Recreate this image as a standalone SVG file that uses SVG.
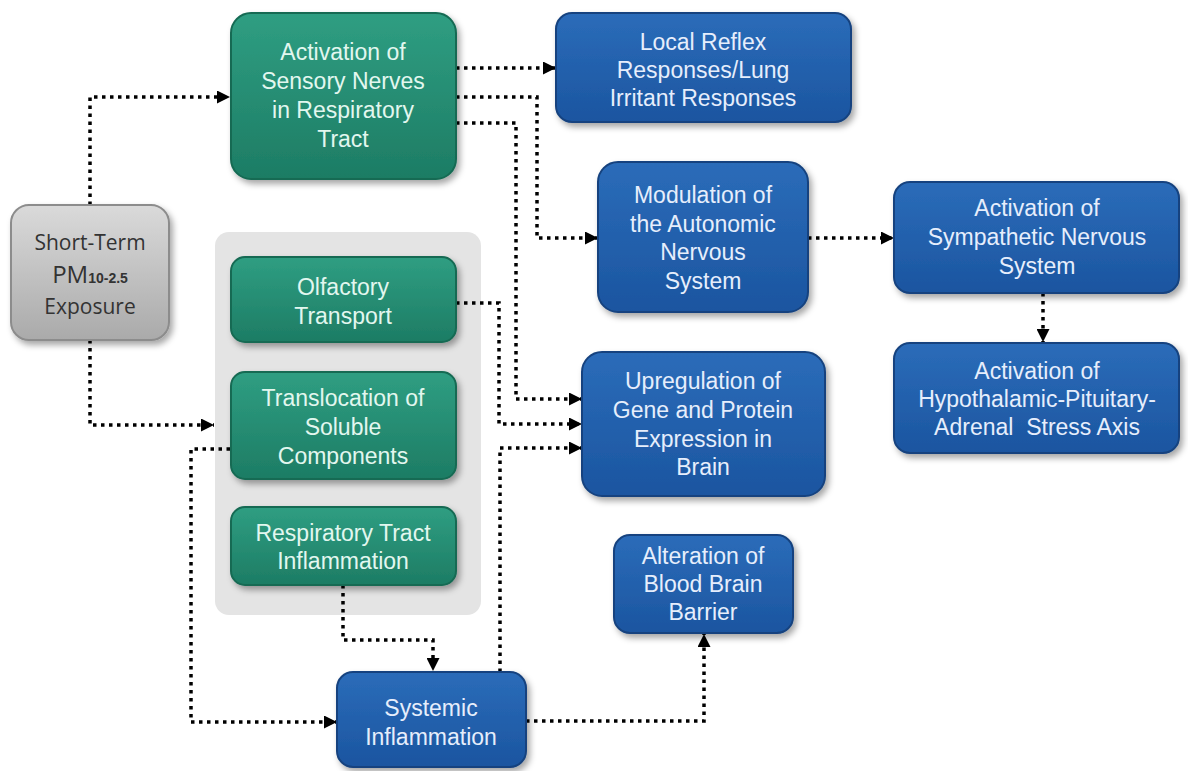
<svg xmlns="http://www.w3.org/2000/svg" width="1188" height="771" viewBox="0 0 1188 771">
<defs>
<linearGradient id="gGreen" x1="0" y1="0" x2="0" y2="1"><stop offset="0" stop-color="#2f9e82"/><stop offset="1" stop-color="#1d7c64"/></linearGradient>
<linearGradient id="gBlue" x1="0" y1="0" x2="0" y2="1"><stop offset="0" stop-color="#2b6cb9"/><stop offset="1" stop-color="#1b55a0"/></linearGradient>
<linearGradient id="gGray" x1="0" y1="0" x2="0" y2="1"><stop offset="0" stop-color="#dadada"/><stop offset="1" stop-color="#aaaaaa"/></linearGradient>
<filter id="sh" x="-10%" y="-10%" width="125%" height="130%"><feDropShadow dx="3" dy="4" stdDeviation="3" flood-color="#000" flood-opacity="0.35"/></filter>
<marker id="ah" viewBox="0 0 10 10" refX="10" refY="5" markerWidth="13" markerHeight="13" markerUnits="userSpaceOnUse" orient="auto"><path d="M0,0 L10,5 L0,10 z" fill="#000"/></marker>
</defs>
<style>
.green{fill:url(#gGreen);stroke:#146a53;stroke-width:2;filter:url(#sh)}
.blue{fill:url(#gBlue);stroke:#16437f;stroke-width:2;filter:url(#sh)}
.gray{fill:url(#gGray);stroke:#8c8c8c;stroke-width:2;filter:url(#sh)}
.t{font-family:"Liberation Sans Narrow","Liberation Sans",Arial,sans-serif;font-size:23px;text-anchor:middle}
.tg{fill:#e2f7ef}
.tb{fill:#e6eefc}
.ts{font-family:"Open Sans","Noto Sans",sans-serif;font-size:21px;text-anchor:middle;fill:#333}
.c{fill:none;stroke:#000;stroke-width:3.5;stroke-dasharray:3.5 4.5;marker-end:url(#ah)}
</style>
<rect width="1188" height="771" fill="#fff"/>
<rect id="group-bg" x="215" y="232" width="266" height="383" rx="14" fill="#e4e4e4"/>

<g id="connectors">
<path class="c" d="M90,205 V97 H230"/>
<path class="c" d="M90,340 V425 H214"/>
<path class="c" d="M456,68 H556"/>
<path class="c" d="M456,97 H537 V238 H598"/>
<path class="c" d="M456,123 H516 V399 H582"/>
<path class="c" d="M456,303 H499 V424 H582"/>
<path class="c" d="M500,672 V448 H582"/>
<path class="c" d="M230,449 H191 V722 H337"/>
<path class="c" d="M343,585 V640 H433 V671"/>
<path class="c" d="M526,721 H704 V634"/>
<path class="c" d="M808,238 H894"/>
<path class="c" d="M1043,293 V342"/>
</g>

<g id="short-term">
<rect class="gray" x="11" y="205" width="158" height="135" rx="18"/>
<text class="ts" x="90" y="250">Short-Term</text>
<text class="ts" x="90" y="283"><tspan font-size="24">PM</tspan><tspan font-size="14" font-weight="bold" font-family="Liberation Sans, Arial, sans-serif">10-2.5</tspan></text>
<text class="ts" x="90" y="314">Exposure</text>
</g>

<g id="sensory">
<rect class="green" x="231" y="13" width="225" height="166" rx="20"/>
<text class="t tg" x="343" y="60">Activation of</text>
<text class="t tg" x="343" y="89">Sensory Nerves</text>
<text class="t tg" x="343" y="118">in Respiratory</text>
<text class="t tg" x="343" y="147">Tract</text>
</g>

<g id="olfactory">
<rect class="green" x="231" y="257" width="225" height="85" rx="14"/>
<text class="t tg" x="343" y="295">Olfactory</text>
<text class="t tg" x="343" y="324">Transport</text>
</g>

<g id="translocation">
<rect class="green" x="231" y="372" width="225" height="107" rx="14"/>
<text class="t tg" x="343" y="406">Translocation of</text>
<text class="t tg" x="343" y="435">Soluble</text>
<text class="t tg" x="343" y="464">Components</text>
</g>

<g id="resp-inflammation">
<rect class="green" x="231" y="507" width="225" height="78" rx="14"/>
<text class="t tg" x="343" y="541">Respiratory Tract</text>
<text class="t tg" x="343" y="569">Inflammation</text>
</g>

<g id="systemic">
<rect class="blue" x="337" y="672" width="189" height="95" rx="16"/>
<text class="t tb" x="431" y="716">Systemic</text>
<text class="t tb" x="431" y="745">Inflammation</text>
</g>

<g id="local-reflex">
<rect class="blue" x="556" y="13" width="295" height="109" rx="16"/>
<text class="t tb" x="703" y="50">Local Reflex</text>
<text class="t tb" x="703" y="78">Responses/Lung</text>
<text class="t tb" x="703" y="106">Irritant Responses</text>
</g>

<g id="modulation">
<rect class="blue" x="598" y="162" width="210" height="150" rx="20"/>
<text class="t tb" x="703" y="203">Modulation of</text>
<text class="t tb" x="703" y="232">the Autonomic</text>
<text class="t tb" x="703" y="260">Nervous</text>
<text class="t tb" x="703" y="289">System</text>
</g>

<g id="sympathetic">
<rect class="blue" x="894" y="182" width="285" height="111" rx="16"/>
<text class="t tb" x="1037" y="216">Activation of</text>
<text class="t tb" x="1037" y="245">Sympathetic Nervous</text>
<text class="t tb" x="1037" y="274">System</text>
</g>

<g id="hpa">
<rect class="blue" x="894" y="343" width="285" height="110" rx="16"/>
<text class="t tb" x="1037" y="379">Activation of</text>
<text class="t tb" x="1037" y="407">Hypothalamic-Pituitary-</text>
<text class="t tb" x="1037" y="435" xml:space="preserve">Adrenal  Stress Axis</text>
</g>

<g id="upregulation">
<rect class="blue" x="582" y="352" width="243" height="144" rx="20"/>
<text class="t tb" x="703" y="389">Upregulation of</text>
<text class="t tb" x="703" y="418">Gene and Protein</text>
<text class="t tb" x="703" y="447">Expression in</text>
<text class="t tb" x="703" y="475">Brain</text>
</g>

<g id="bbb">
<rect class="blue" x="614" y="535" width="179" height="98" rx="16"/>
<text class="t tb" x="703" y="564">Alteration of</text>
<text class="t tb" x="703" y="592">Blood Brain</text>
<text class="t tb" x="703" y="620">Barrier</text>
</g>
</svg>
